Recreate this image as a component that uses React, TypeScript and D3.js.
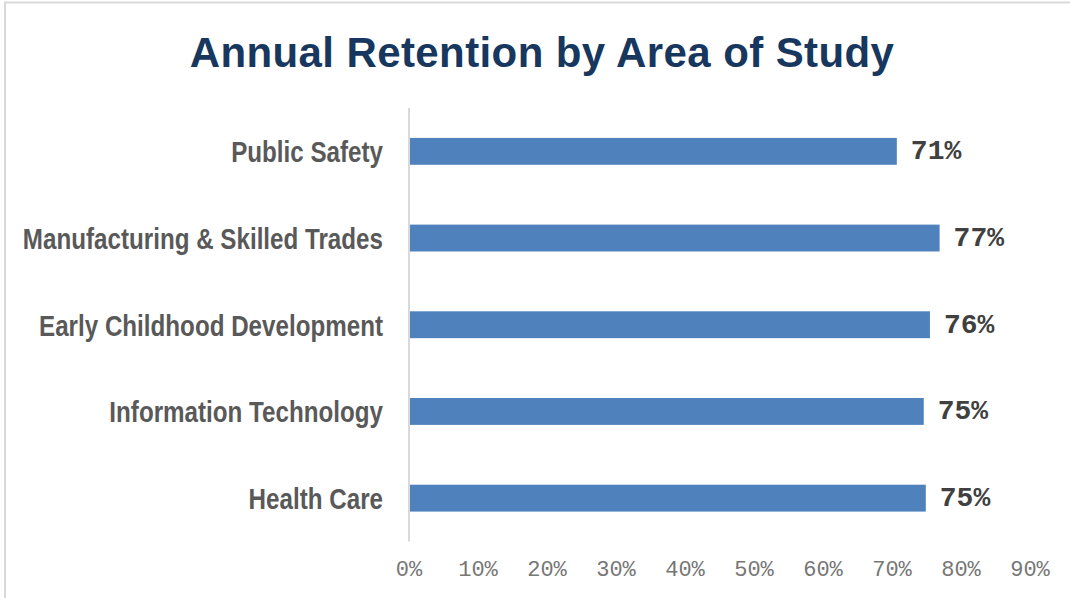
import React from "react";
import * as d3 from "d3";

// chart data, top to bottom
const categories = [
  "Public Safety",
  "Manufacturing & Skilled Trades",
  "Early Childhood Development",
  "Information Technology",
  "Health Care",
];
const retention = [70.7, 76.9, 75.5, 74.6, 74.9];
const labels = ["71%", "77%", "76%", "75%", "75%"];
const ticks = [0, 10, 20, 30, 40, 50, 60, 70, 80, 90];

const W = 1070;
const H = 598;

export default function App() {
  const x = d3.scaleLinear().domain([0, 90]).range([409, 1030]);
  const y = d3.scaleBand<string>().domain(categories).range([108, 541.5]).paddingInner(0.69).paddingOuter(0.345);

  return (
    <div style={{ position: "fixed", left: 0, top: 0 }}>
      <svg width={W} height={H} style={{ display: "block", background: "#fff" }}>
        <rect x={5} y={2.5} width={W + 20} height={H + 20} fill="#fff" stroke="#d9d9d9" strokeWidth={2} />
        <text
          x={542}
          y={67}
          textAnchor="middle"
          fontFamily="'Liberation Sans', Arial, sans-serif"
          fontWeight="bold"
          fontSize={42}
          letterSpacing={0.4}
          fill="#17375E"
        >
          Annual Retention by Area of Study
        </text>

        {categories.map((c, i) => {
          const cy = (y(c) as number) + y.bandwidth() / 2;
          return (
            <g key={c}>
              <rect x={x(0)} y={y(c)} width={x(retention[i]) - x(0)} height={y.bandwidth()} fill="#4F81BD" />
              {/* no narrow face installed, so squeeze the regular bold one */}
              <text
                transform={`translate(383,${cy + 11}) scale(0.82,1)`}
                textAnchor="end"
                fontFamily="'Liberation Sans', Arial, sans-serif"
                fontWeight="bold"
                fontSize={29.5}
                fill="#595959"
              >
                {c}
              </text>
              <text
                x={x(retention[i]) + 14}
                y={cy + 8}
                fontFamily="'Liberation Mono', 'Courier New', monospace"
                fontWeight="bold"
                fontSize={28}
                fill="#404040"
              >
                {labels[i]}
              </text>
            </g>
          );
        })}

        <line x1={x(0)} x2={x(0)} y1={108} y2={541.5} stroke="#d9d9d9" strokeWidth={2} />

        {ticks.map((t) => (
          <text
            key={t}
            x={x(t)}
            y={576}
            textAnchor="middle"
            fontFamily="'Liberation Mono', 'Courier New', monospace"
            fontSize={22}
            fill="#767676"
          >
            {t + "%"}
          </text>
        ))}
      </svg>
    </div>
  );
}
